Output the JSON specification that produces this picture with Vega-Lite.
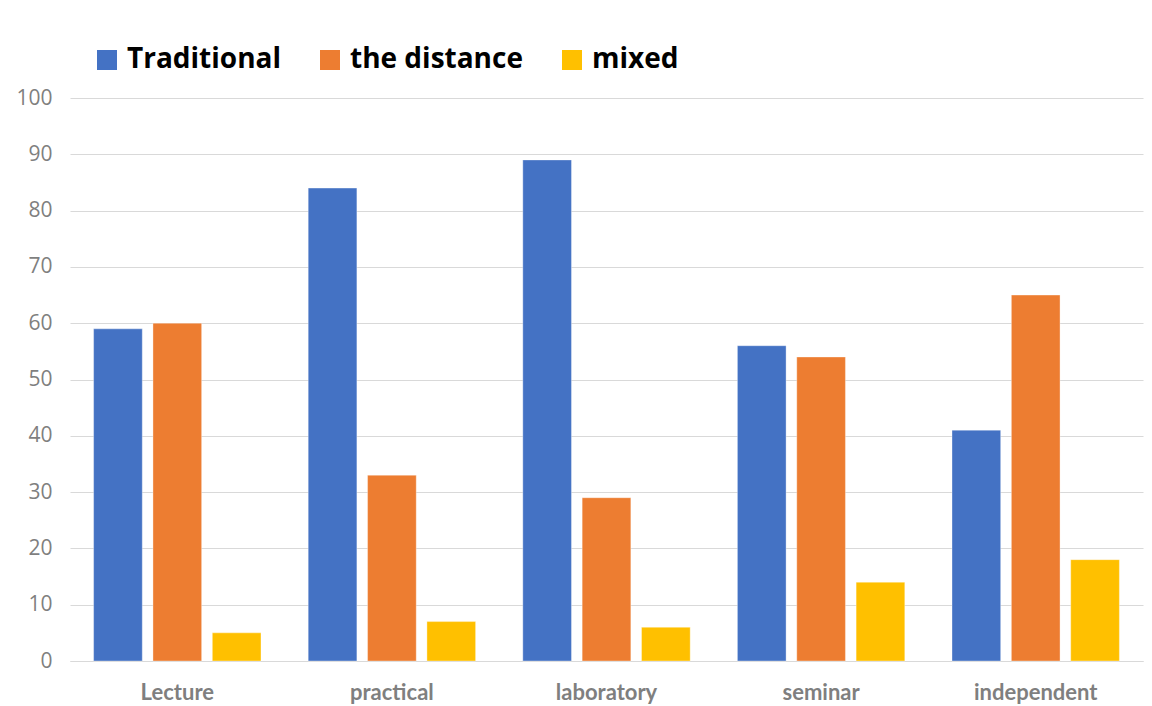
{
  "$schema": "https://vega.github.io/schema/vega-lite/v6.json",
  "width": 1073,
  "height": 563,
  "autosize": {"type": "none"},
  "padding": {"left": 70, "top": 98, "right": 9, "bottom": 45},
  "background": "#ffffff",
  "config": {"view": {"stroke": null}, "font": "Lato"},
  "data": {
    "values": [
      {"type": "Lecture", "form": "Traditional", "value": 59},
      {"type": "Lecture", "form": "the distance", "value": 60},
      {"type": "Lecture", "form": "mixed", "value": 5},
      {"type": "practical", "form": "Traditional", "value": 84},
      {"type": "practical", "form": "the distance", "value": 33},
      {"type": "practical", "form": "mixed", "value": 7},
      {"type": "laboratory", "form": "Traditional", "value": 89},
      {"type": "laboratory", "form": "the distance", "value": 29},
      {"type": "laboratory", "form": "mixed", "value": 6},
      {"type": "seminar", "form": "Traditional", "value": 56},
      {"type": "seminar", "form": "the distance", "value": 54},
      {"type": "seminar", "form": "mixed", "value": 14},
      {"type": "independent", "form": "Traditional", "value": 41},
      {"type": "independent", "form": "the distance", "value": 65},
      {"type": "independent", "form": "mixed", "value": 18}
    ]
  },
  "mark": {"type": "bar", "stroke": "#ffffff", "strokeOpacity": 0.35, "strokeWidth": 1},
  "encoding": {
    "x": {
      "field": "type",
      "type": "nominal",
      "sort": ["Lecture", "practical", "laboratory", "seminar", "independent"],
      "scale": {"paddingInner": 0.22, "paddingOuter": 0.11},
      "axis": {
        "title": null,
        "labelAngle": 0,
        "domainColor": "#d9d9d9",
        "domainWidth": 1,
        "ticks": false,
        "labelPadding": 21,
        "labelFontSize": 22,
        "labelFontWeight": "bold",
        "labelColor": "#7f7f7f",
        "labelFont": "Lato"
      }
    },
    "xOffset": {
      "field": "form",
      "type": "nominal",
      "sort": ["Traditional", "the distance", "mixed"],
      "scale": {"paddingInner": 0.18, "paddingOuter": 0}
    },
    "y": {
      "field": "value",
      "type": "quantitative",
      "scale": {"domain": [0, 100], "nice": false},
      "axis": {
        "title": null,
        "values": [0, 10, 20, 30, 40, 50, 60, 70, 80, 90, 100],
        "domain": false,
        "ticks": false,
        "gridColor": "#d9d9d9",
        "gridWidth": 1,
        "labelPadding": 18,
        "labelFontSize": 21,
        "labelColor": "#7f7f7f",
        "labelFont": "Open Sans"
      }
    },
    "color": {
      "field": "form",
      "type": "nominal",
      "sort": ["Traditional", "the distance", "mixed"],
      "scale": {
        "domain": ["Traditional", "the distance", "mixed"],
        "range": ["#4472C4", "#ED7D31", "#FFC000"]
      },
      "legend": {
        "title": null,
        "orient": "none",
        "legendX": 23,
        "legendY": -52,
        "direction": "horizontal",
        "symbolType": "square",
        "symbolSize": 400,
        "symbolStrokeWidth": 0,
        "symbolOpacity": 1,
        "labelFontSize": 28,
        "labelFontWeight": "bold",
        "labelFont": "Open Sans",
        "labelColor": "#000000",
        "labelOffset": 6,
        "columnPadding": 35,
        "labelLimit": 400
      }
    }
  }
}
